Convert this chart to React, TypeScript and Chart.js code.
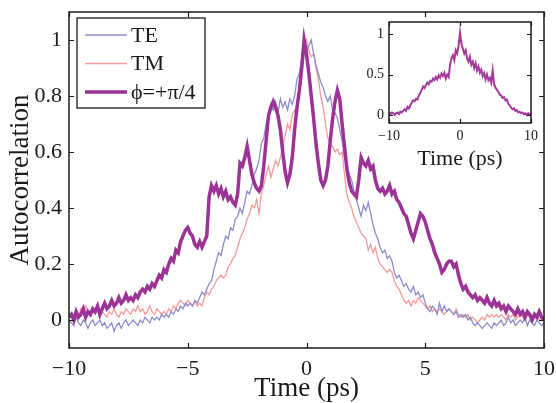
import React, { useEffect, useRef } from "react";
import { Chart, registerables } from "chart.js";

Chart.register(...registerables);

const FONT = "'Liberation Serif', 'Times New Roman', serif";
const INK = "#1a1a1a";

const X_TICKS = [-10, -5, 0, 5, 10];
const Y_TICKS = [0, 0.2, 0.4, 0.6, 0.8, 1];
const INSET_X_TICKS = [-10, 0, 10];
const INSET_Y_TICKS = [0, 0.5, 1];
const SERIES_LABELS = ["TE", "TM", "\u03D5=+\u03C0/4"];
const SERIES_COLORS = ["#8c8ccc", "#f59b9b", "#9c3295"];
const X_TITLE = "Time (ps)";
const Y_TITLE = "Autocorrelation";

// sampling of the traces: start time and step (ps)
const T_START = -10;
const T_STEP = 0.1;
const INSET_STEP = 0.2;

// TE autocorrelation, t = -10 .. 10 ps every 0.1 ps
const TE = [
  0.00, -0.01, -0.02, 0.01, -0.01, -0.02, 0.00, -0.01, -0.03, -0.01,
  0.00, -0.02, -0.01, 0.00, -0.02, -0.01, -0.03, -0.02, -0.01, -0.04,
  -0.02, -0.01, -0.03, -0.01, 0.00, -0.02, -0.01, 0.00, -0.01, -0.02,
  0.00, -0.01, 0.01, 0.00, -0.01, 0.01, 0.00, 0.01, 0.00, 0.02,
  0.01, 0.02, 0.01, 0.03, 0.02, 0.04, 0.03, 0.05, 0.04, 0.06,
  0.05, 0.06, 0.05, 0.07, 0.06, 0.08, 0.10, 0.09, 0.11, 0.13,
  0.14, 0.18, 0.21, 0.24, 0.23, 0.27, 0.30, 0.29, 0.33, 0.32,
  0.36, 0.37, 0.40, 0.38, 0.42, 0.46, 0.45, 0.48, 0.52, 0.54,
  0.57, 0.63, 0.65, 0.70, 0.72, 0.77, 0.75, 0.78, 0.74, 0.79,
  0.76, 0.78, 0.75, 0.79, 0.77, 0.80, 0.86, 0.88, 0.94, 1.00,
  0.96, 0.98, 1.00, 0.95, 0.91, 0.88, 0.85, 0.83, 0.80, 0.78,
  0.80, 0.75, 0.74, 0.72, 0.68, 0.64, 0.58, 0.56, 0.52, 0.50,
  0.46, 0.43, 0.40, 0.37, 0.41, 0.39, 0.42, 0.38, 0.34, 0.31,
  0.29, 0.26, 0.24, 0.25, 0.22, 0.23, 0.21, 0.17, 0.15, 0.16,
  0.14, 0.12, 0.13, 0.11, 0.10, 0.12, 0.09, 0.10, 0.08, 0.09,
  0.06, 0.04, 0.03, 0.05, 0.04, 0.02, 0.06, 0.03, 0.05, 0.03,
  0.04, 0.03, 0.02, 0.03, 0.01, 0.02, 0.01, 0.02, 0.00, 0.01,
  -0.01, -0.02, -0.01, -0.02, -0.03, -0.02, -0.01, -0.02, -0.03, -0.01,
  -0.02, -0.01, 0.00, -0.02, -0.01, 0.01, -0.01, 0.00, -0.02, -0.01,
  0.00, -0.01, 0.01, -0.02, 0.00, -0.01, -0.02, 0.00, -0.01, -0.02,
  -0.01,
];

// TM autocorrelation
const TM = [
  0.01, 0.02, 0.00, 0.03, 0.01, 0.04, 0.02, 0.05, 0.03, 0.02,
  0.03, 0.02, 0.04, 0.01, 0.03, 0.02, 0.01, 0.03, 0.02, 0.04,
  0.02, 0.01, 0.03, 0.02, 0.04, 0.03, 0.02, 0.04, 0.03, 0.05,
  0.03, 0.04, 0.02, 0.03, 0.05, 0.03, 0.02, 0.04, 0.03, 0.02,
  0.03, 0.02, 0.04, 0.03, 0.05, 0.04, 0.06, 0.07, 0.06, 0.05,
  0.07, 0.06, 0.05, 0.07, 0.05, 0.06, 0.05, 0.08, 0.10, 0.09,
  0.11, 0.12, 0.14, 0.15, 0.16, 0.15, 0.16, 0.19, 0.20, 0.22,
  0.23, 0.26, 0.29, 0.31, 0.33, 0.36, 0.38, 0.41, 0.40, 0.43,
  0.38, 0.45, 0.48, 0.52, 0.55, 0.51, 0.54, 0.57, 0.55, 0.58,
  0.62, 0.66, 0.70, 0.68, 0.73, 0.75, 0.74, 0.82, 0.90, 0.97,
  1.00, 0.96, 0.94, 0.95, 0.90, 0.86, 0.80, 0.76, 0.70, 0.65,
  0.63, 0.62, 0.60, 0.61, 0.59, 0.60, 0.52, 0.45, 0.42, 0.40,
  0.37, 0.35, 0.33, 0.31, 0.30, 0.29, 0.25, 0.27, 0.24, 0.26,
  0.22, 0.20, 0.19, 0.18, 0.17, 0.18, 0.17, 0.14, 0.12, 0.11,
  0.09, 0.07, 0.06, 0.07, 0.05, 0.07, 0.06, 0.08, 0.07, 0.06,
  0.05, 0.04, 0.05, 0.03, 0.04, 0.03, 0.04, 0.03, 0.02, 0.03,
  0.04, 0.03, 0.02, 0.04, 0.02, 0.01, 0.02, 0.01, 0.02, 0.00,
  0.01, 0.00, -0.01, 0.00, 0.01, 0.00, 0.02, 0.01, 0.02, 0.01,
  0.02, 0.01, 0.02, 0.01, 0.00, 0.02, 0.01, 0.02, 0.00, 0.01,
  0.02, 0.01, 0.00, 0.02, 0.01, 0.00, 0.01, 0.02, 0.00, 0.01,
  0.00,
];

// phi = +pi/4 autocorrelation
const PHI = [
  0.01, 0.02, 0.00, 0.03, 0.01, 0.02, 0.04, 0.01, 0.03, 0.02,
  0.04, 0.03, 0.05, 0.02, 0.04, 0.06, 0.04, 0.05, 0.07, 0.05,
  0.06, 0.08, 0.06, 0.07, 0.09, 0.07, 0.08, 0.07, 0.09, 0.08,
  0.10, 0.11, 0.10, 0.12, 0.11, 0.13, 0.12, 0.14, 0.16, 0.15,
  0.18, 0.17, 0.20, 0.22, 0.21, 0.25, 0.24, 0.28, 0.30, 0.32,
  0.33, 0.31, 0.30, 0.27, 0.26, 0.28, 0.26, 0.28, 0.30, 0.44,
  0.48, 0.46, 0.48, 0.45, 0.47, 0.44, 0.46, 0.43, 0.44, 0.42,
  0.41, 0.45, 0.56, 0.55, 0.58, 0.62, 0.57, 0.52, 0.49, 0.47,
  0.46, 0.48, 0.55, 0.64, 0.73, 0.76, 0.78, 0.76, 0.73, 0.68,
  0.60, 0.53, 0.49, 0.52, 0.58, 0.68, 0.76, 0.82, 0.90, 1.00,
  0.95, 0.88, 0.80, 0.72, 0.63, 0.56, 0.50, 0.48, 0.50, 0.55,
  0.64, 0.72, 0.78, 0.82, 0.79, 0.70, 0.62, 0.54, 0.49, 0.46,
  0.45, 0.44, 0.50, 0.58, 0.56, 0.55, 0.57, 0.54, 0.55, 0.50,
  0.47, 0.46, 0.47, 0.45, 0.46, 0.48, 0.45, 0.46, 0.43, 0.42,
  0.40, 0.38, 0.37, 0.34, 0.31, 0.29, 0.32, 0.35, 0.38, 0.37,
  0.35, 0.32, 0.29, 0.27, 0.24, 0.22, 0.20, 0.17, 0.18, 0.20,
  0.21, 0.21, 0.19, 0.20, 0.16, 0.13, 0.11, 0.12, 0.10, 0.09,
  0.08, 0.09, 0.07, 0.08, 0.07, 0.06, 0.08, 0.06, 0.05, 0.07,
  0.05, 0.06, 0.04, 0.05, 0.03, 0.05, 0.04, 0.03, 0.02, 0.04,
  0.02, 0.03, 0.01, 0.03, 0.02, 0.00, 0.02, 0.01, 0.03, 0.01,
  0.00,
];

// inset trace, t = -10 .. 10 ps every 0.2 ps
const INSET = [
  0.03, 0.01, 0.03, 0.02, 0.00, 0.02, 0.03, 0.01, 0.04, 0.03,
  0.05, 0.07, 0.05, 0.10, 0.08, 0.12, 0.15, 0.18, 0.17, 0.20,
  0.19, 0.24, 0.27, 0.31, 0.35, 0.33, 0.37, 0.40, 0.38, 0.42,
  0.41, 0.45, 0.43, 0.47, 0.44, 0.49, 0.46, 0.51, 0.48, 0.52,
  0.45, 0.50, 0.47, 0.62, 0.70, 0.74, 0.68, 0.80, 0.76, 0.86,
  1.02, 0.88, 0.82, 0.76, 0.80, 0.70, 0.66, 0.72, 0.62, 0.66,
  0.58, 0.64, 0.55, 0.60, 0.52, 0.56, 0.48, 0.52, 0.44, 0.50,
  0.43, 0.46, 0.40, 0.55, 0.38, 0.34, 0.31, 0.29, 0.25, 0.24,
  0.21, 0.22, 0.18, 0.19, 0.14, 0.12, 0.09, 0.07, 0.08, 0.05,
  0.06, 0.03, 0.04, 0.02, 0.03, 0.01, 0.02, 0.00, 0.02, 0.01,
  0.02,
];

const toPoints = (vals: number[], step: number) =>
  vals.map((v, i) => ({ x: Math.round((T_START + i * step) * 100) / 100, y: v }));

const fmt = (v: number | string) => {
  const n = Number(v);
  return n < 0 ? "\u2212" + Math.abs(n) : String(n);
};

const noPad = (s: any) => {
  s.paddingLeft = 0;
  s.paddingRight = 0;
  s.paddingTop = 0;
  s.paddingBottom = 0;
};

const framePlugin = (xt: number[], yt: number[], tickLen: number, lw: number, fillWhite: boolean) => ({
  id: "frame",
  beforeDatasetsDraw(chart: any) {
    if (!fillWhite) return;
    const { ctx, chartArea: a } = chart;
    ctx.save();
    ctx.fillStyle = "#ffffff";
    ctx.fillRect(a.left, a.top, a.right - a.left, a.bottom - a.top);
    ctx.restore();
  },
  afterDatasetsDraw(chart: any) {
    const { ctx, chartArea: a, scales } = chart;
    ctx.save();
    ctx.strokeStyle = INK;
    ctx.lineWidth = lw;
    ctx.beginPath();
    xt.forEach((v) => {
      const px = Math.round(scales.x.getPixelForValue(v)) + 0.5;
      ctx.moveTo(px, a.bottom);
      ctx.lineTo(px, a.bottom - tickLen);
      ctx.moveTo(px, a.top);
      ctx.lineTo(px, a.top + tickLen);
    });
    yt.forEach((v) => {
      const py = Math.round(scales.y.getPixelForValue(v)) + 0.5;
      ctx.moveTo(a.left, py);
      ctx.lineTo(a.left + tickLen, py);
      ctx.moveTo(a.right, py);
      ctx.lineTo(a.right - tickLen, py);
    });
    ctx.stroke();
    ctx.lineWidth = lw + 0.3;
    ctx.strokeRect(a.left, a.top, a.right - a.left, a.bottom - a.top);
    ctx.restore();
  },
});

const legendPlugin = {
  id: "boxLegend",
  afterDraw(chart: any) {
    const { ctx, chartArea: a } = chart;
    const bx = a.left + 8;
    const by = a.top + 6;
    const bw = 128;
    const bh = 90;
    ctx.save();
    ctx.fillStyle = "#ffffff";
    ctx.fillRect(bx, by, bw, bh);
    ctx.strokeStyle = INK;
    ctx.lineWidth = 1.3;
    ctx.strokeRect(bx, by, bw, bh);
    const widths = [1.6, 1.6, 3.5];
    SERIES_LABELS.forEach((lab, i) => {
      const y = by + 17 + i * 28.5;
      ctx.strokeStyle = SERIES_COLORS[i];
      ctx.lineWidth = widths[i];
      ctx.beginPath();
      ctx.moveTo(bx + 8, y);
      ctx.lineTo(bx + 50, y);
      ctx.stroke();
      ctx.fillStyle = INK;
      ctx.font = `22px ${FONT}`;
      ctx.textBaseline = "middle";
      ctx.textAlign = "left";
      ctx.fillText(lab, bx + 54, y + 1);
    });
    ctx.restore();
  },
};

export default function App() {
  const mainRef = useRef<HTMLCanvasElement | null>(null);
  const insetRef = useRef<HTMLCanvasElement | null>(null);

  useEffect(() => {
    if (!mainRef.current || !insetRef.current) return;

    const tickFont = (size: number) => ({ family: FONT, size });

    const main = new Chart(mainRef.current, {
      type: "line",
      data: {
        datasets: [
          { label: SERIES_LABELS[0], data: toPoints(TE, T_STEP), borderColor: SERIES_COLORS[0], borderWidth: 1.3, pointRadius: 0, order: 1 },
          { label: SERIES_LABELS[1], data: toPoints(TM, T_STEP), borderColor: SERIES_COLORS[1], borderWidth: 1.3, pointRadius: 0, order: 2 },
          { label: SERIES_LABELS[2], data: toPoints(PHI, T_STEP), borderColor: SERIES_COLORS[2], borderWidth: 3.5, pointRadius: 0, order: 0 },
        ],
      },
      options: {
        responsive: false,
        animation: false,
        devicePixelRatio: 1,
        layout: { padding: { left: 0, right: 12, top: 12, bottom: 0 } },
        plugins: { legend: { display: false }, tooltip: { enabled: false } },
        scales: {
          x: {
            type: "linear",
            min: -10,
            max: 10,
            afterBuildTicks: (s: any) => { s.ticks = X_TICKS.map((v) => ({ value: v })); },
            afterFit: (s: any) => { s.height = 55; noPad(s); },
            grid: { display: false, drawTicks: false },
            border: { display: false },
            ticks: { font: tickFont(22), color: INK, padding: 8, callback: fmt, maxRotation: 0, autoSkip: false },
            title: { display: true, text: X_TITLE, font: tickFont(27), color: INK, padding: { top: 0, bottom: -2 } },
          },
          y: {
            type: "linear",
            min: -0.1,
            max: 1.1,
            afterBuildTicks: (s: any) => { s.ticks = Y_TICKS.map((v) => ({ value: v })); },
            afterFit: (s: any) => { s.width = 69; noPad(s); },
            grid: { display: false, drawTicks: false },
            border: { display: false },
            ticks: { font: tickFont(22), color: INK, padding: 7, callback: fmt, autoSkip: false },
            title: { display: true, text: Y_TITLE, font: tickFont(27), color: INK, padding: { top: 5, bottom: 0 } },
          },
        },
      },
      plugins: [framePlugin(X_TICKS, Y_TICKS, 5, 1.2, false), legendPlugin],
    } as any);

    const inset = new Chart(insetRef.current, {
      type: "line",
      data: {
        datasets: [
          { label: SERIES_LABELS[2], data: toPoints(INSET, INSET_STEP), borderColor: "#a33a9c", borderWidth: 2, pointRadius: 0 },
        ],
      },
      options: {
        responsive: false,
        animation: false,
        devicePixelRatio: 1,
        layout: { padding: { left: 0, right: 19, top: 8, bottom: 0 } },
        plugins: { legend: { display: false }, tooltip: { enabled: false } },
        scales: {
          x: {
            type: "linear",
            min: -10,
            max: 10,
            afterBuildTicks: (s: any) => { s.ticks = INSET_X_TICKS.map((v) => ({ value: v })); },
            afterFit: (s: any) => { s.height = 51; noPad(s); },
            grid: { display: false, drawTicks: false },
            border: { display: false },
            ticks: { font: tickFont(14), color: INK, padding: 5, callback: fmt, maxRotation: 0, autoSkip: false },
            title: { display: true, text: X_TITLE, font: tickFont(22), color: INK, padding: { top: 0, bottom: 2 } },
          },
          y: {
            type: "linear",
            min: -0.1,
            max: 1.15,
            afterBuildTicks: (s: any) => { s.ticks = INSET_Y_TICKS.map((v) => ({ value: v })); },
            afterFit: (s: any) => { s.width = 49; noPad(s); },
            grid: { display: false, drawTicks: false },
            border: { display: false },
            ticks: { font: tickFont(14), color: INK, padding: 5, callback: fmt, autoSkip: false },
          },
        },
      },
      plugins: [framePlugin(INSET_X_TICKS, INSET_Y_TICKS, 4, 1.2, true)],
    } as any);

    return () => {
      main.destroy();
      inset.destroy();
    };
  }, []);

  return (
    <div style={{ position: "absolute", left: 0, top: 0, width: 556, height: 403, background: "#ffffff" }}>
      <canvas ref={mainRef} width={556} height={403} style={{ position: "absolute", left: 0, top: 0 }} />
      <canvas ref={insetRef} width={210} height={160} style={{ position: "absolute", left: 340, top: 14 }} />
    </div>
  );
}
